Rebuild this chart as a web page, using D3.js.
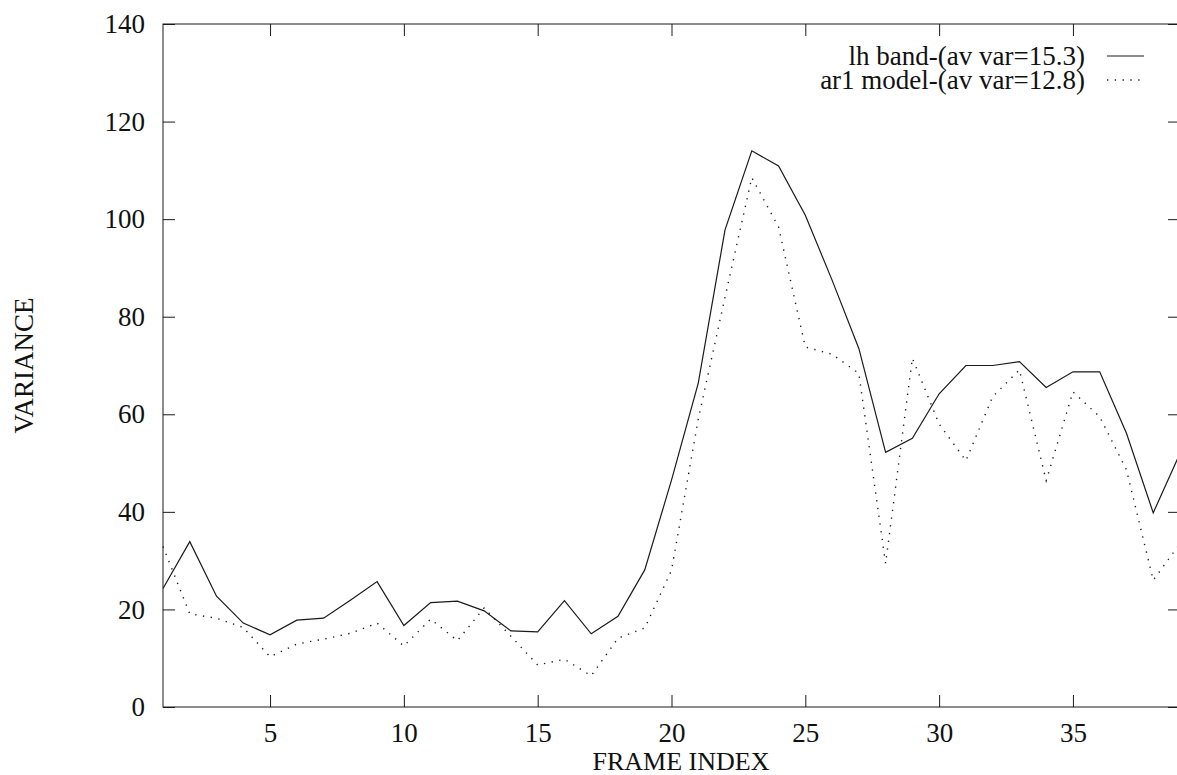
<!DOCTYPE html>
<html>
<head>
<meta charset="utf-8">
<script src="https://cdn.jsdelivr.net/npm/d3@7"></script>
<style>
  body { margin: 0; background: #fff; }
  svg text { font-family: "Liberation Serif", "DejaVu Serif", serif; fill: #111; }
</style>
</head>
<body>
<div id="chart"></div>
<script>
// frame index on x, variance on y
const frames = [1, 2, 3, 4, 5, 6, 7, 8, 9, 10, 11, 12, 13, 14, 15, 16, 17, 18, 19, 20,
  21, 22, 23, 24, 25, 26, 27, 28, 29, 30, 31, 32, 33, 34, 35, 36, 37, 38, 39];

const lhBand = [24.3, 33.9, 22.7, 17.2, 14.8, 17.8, 18.2, 21.9, 25.7, 16.7,
  21.4, 21.7, 19.7, 15.6, 15.4, 21.8, 15.0, 18.6, 28.1, 46.5,
  66.4, 97.8, 114.0, 110.9, 100.8, 87.5, 73.5, 52.2, 55.1, 64.2,
  70.0, 70.0, 70.8, 65.5, 68.7, 68.7, 56.1, 39.8, 52.0];

const ar1Model = [32.9, 19.1, 18.2, 16.3, 10.3, 12.9, 13.9, 15.1, 17.2, 12.5,
  18.0, 13.6, 20.3, 14.5, 8.6, 9.8, 6.4, 14.1, 16.2, 28.0,
  59.0, 84.0, 108.5, 98.4, 73.8, 72.3, 68.4, 29.4, 71.5, 58.0,
  50.5, 63.6, 69.1, 46.4, 64.6, 59.5, 48.6, 26.0, 33.5];

const xTicks = [5, 10, 15, 20, 25, 30, 35];
const yTicks = [0, 20, 40, 60, 80, 100, 120, 140];
const seriesNames = ["lh band-(av var=15.3)", "ar1 model-(av var=12.8)"];

const W = 1177, H = 775;
const margin = {top: 24, right: -3, bottom: 68, left: 163};
const width = W - margin.left - margin.right;
const height = H - margin.top - margin.bottom;

const svg = d3.select("#chart").append("svg")
  .attr("width", W)
  .attr("height", H);

const g = svg.append("g")
  .attr("transform", "translate(" + margin.left + "," + margin.top + ")");

const x = d3.scaleLinear().domain([1, 39]).range([0, width]);
const y = d3.scaleLinear().domain([0, 140]).range([height, 0]);

const ink = "#1a1a1a";
const fontSize = 27;

// axes, ticks pointing inwards
const xAxis = g.append("g")
  .attr("transform", "translate(0," + height + ")")
  .call(d3.axisBottom(x).tickValues(xTicks).tickSize(-12).tickPadding(16));
const yAxis = g.append("g")
  .call(d3.axisLeft(y).tickValues(yTicks).tickSize(-12).tickPadding(18));
const topAxis = g.append("g")
  .call(d3.axisTop(x).tickValues(xTicks).tickSize(-12).tickFormat(""));
const rightAxis = g.append("g")
  .attr("transform", "translate(" + width + ",0)")
  .call(d3.axisRight(y).tickValues(yTicks).tickSize(-12).tickFormat(""));

[xAxis, yAxis, topAxis, rightAxis].forEach(a => {
  a.select(".domain").remove();
  a.selectAll("line").attr("stroke", ink).attr("stroke-width", 1);
  a.selectAll("text")
    .attr("font-size", fontSize)
    .attr("font-family", "Liberation Serif, serif")
    .attr("fill", "#111");
});

// frame
g.append("rect")
  .attr("x", 0).attr("y", 0)
  .attr("width", width).attr("height", height)
  .attr("fill", "none")
  .attr("stroke", ink)
  .attr("stroke-width", 1);

// lines
const line = d3.line()
  .x((d, i) => x(frames[i]))
  .y(d => y(d));

g.append("path")
  .datum(lhBand)
  .attr("fill", "none")
  .attr("stroke", ink)
  .attr("stroke-width", 1.2)
  .attr("d", line);

g.append("path")
  .datum(ar1Model)
  .attr("fill", "none")
  .attr("stroke", ink)
  .attr("stroke-width", 1.4)
  .attr("stroke-dasharray", "1.3,6.5")
  .attr("d", line);

// axis titles
svg.append("text")
  .attr("x", 681)
  .attr("y", 770)
  .attr("text-anchor", "middle")
  .attr("font-size", 26)
  .text("FRAME INDEX");

svg.append("text")
  .attr("transform", "translate(33," + (margin.top + height / 2) + ") rotate(-90)")
  .attr("text-anchor", "middle")
  .attr("font-size", fontSize)
  .text("VARIANCE");

// legend
const legend = svg.append("g");
seriesNames.forEach((name, i) => {
  const by = 65 + i * 24;
  legend.append("text")
    .attr("x", 1085)
    .attr("y", by)
    .attr("text-anchor", "end")
    .attr("font-size", 27)
    .text(name);
  legend.append("line")
    .attr("x1", 1107).attr("x2", 1144)
    .attr("y1", by - 9).attr("y2", by - 9)
    .attr("stroke", ink)
    .attr("stroke-width", i === 0 ? 1.2 : 1.4)
    .attr("stroke-dasharray", i === 0 ? null : "1.3,6.5");
});
</script>
</body>
</html>
